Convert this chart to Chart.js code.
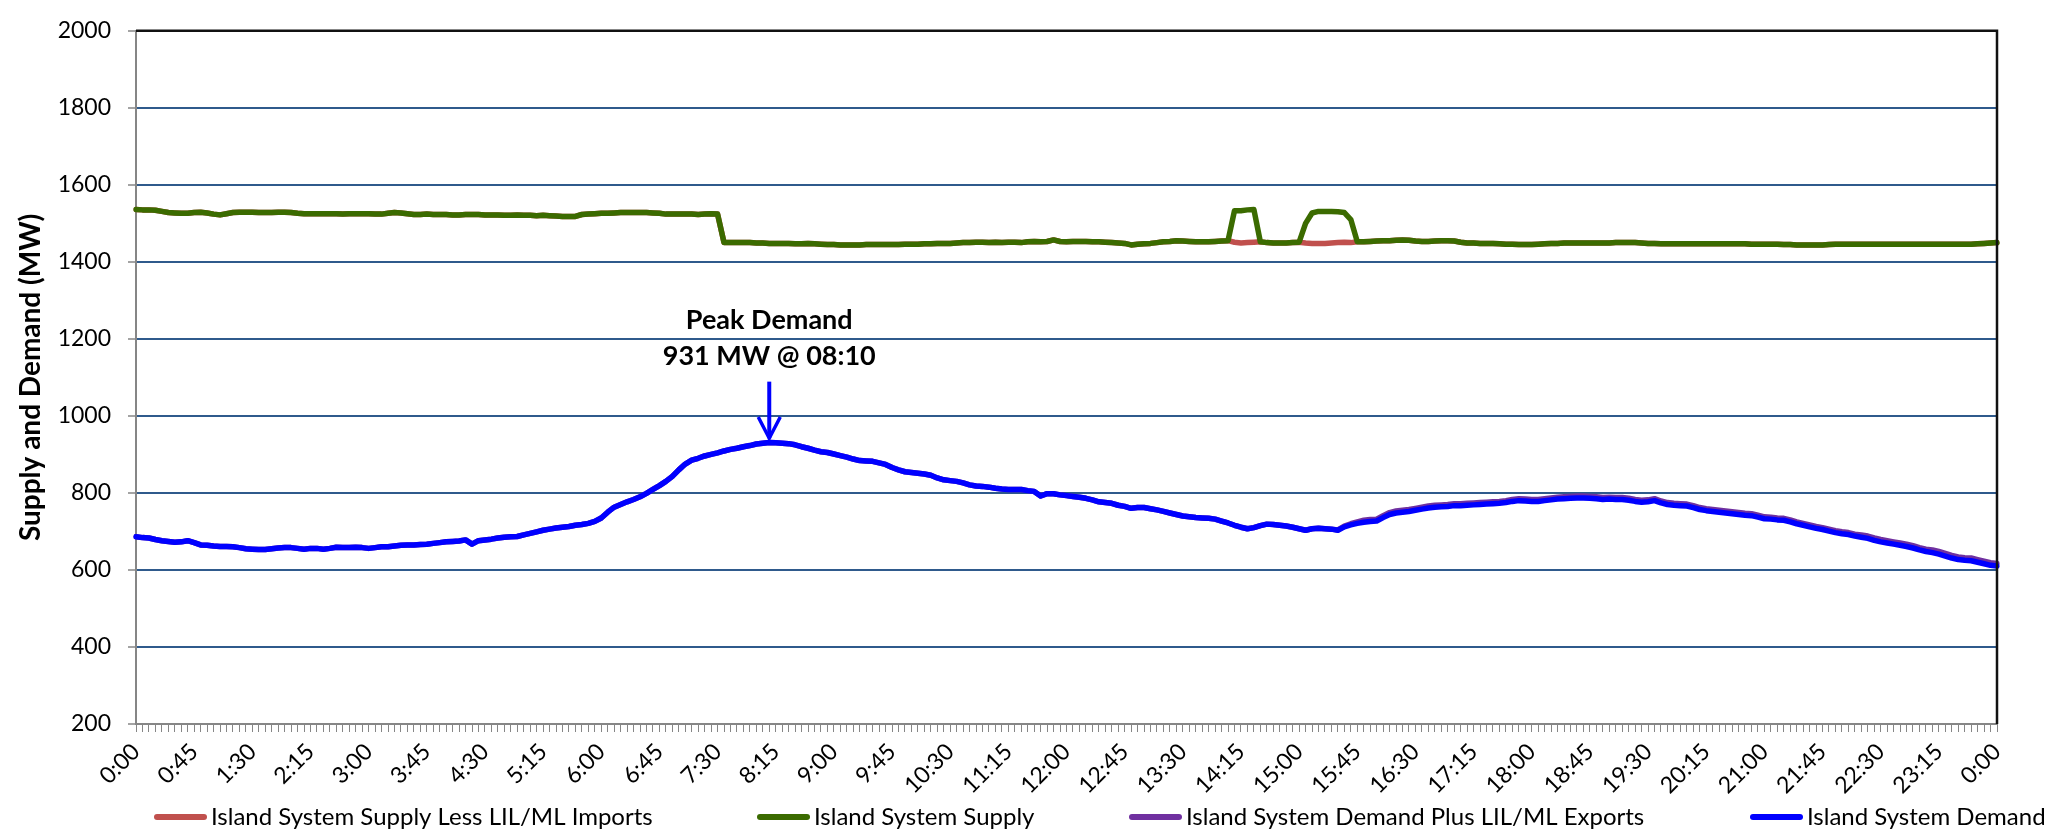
<!DOCTYPE html>
<html>
<head>
<meta charset="utf-8">
<script src="https://cdn.jsdelivr.net/npm/chart.js@4.4.0/dist/chart.umd.min.js"></script>
<style>
html,body{margin:0;padding:0;background:#fff;}
#wrap{width:2055px;height:831px;position:relative;}
</style>
</head>
<body>
<div id="wrap"><canvas id="c" width="2055" height="831"></canvas></div>
<script>
// ---------- DATA (5-minute readings, 0:00 .. 24:00) ----------
const seriesNames = [
  'Island System Supply Less LIL/ML Imports',
  'Island System Supply',
  'Island System Demand Plus LIL/ML Exports',
  'Island System Demand'
];

const islandDemand = [
  686,684,683,679,676,674,672,673,676,671,665,664,
  662,661,661,660,658,655,654,653,653,655,657,658,
  658,656,654,656,656,654,656,659,658,658,659,658,
  656,658,660,660,662,664,665,665,666,667,669,671,
  673,674,675,678,667,676,678,680,683,685,686,687,
  691,695,699,703,706,709,711,713,716,718,721,726,
  735,750,763,770,777,783,790,799,809,819,830,843,
  860,875,885,890,896,900,904,909,913,916,920,923,
  927,929,931,930,929,928,925,920,916,911,907,905,
  901,897,893,888,884,883,882,878,874,866,860,855,
  853,851,849,846,839,834,832,830,826,821,818,817,
  815,812,810,809,809,809,806,804,792,798,798,795,
  793,791,789,786,782,777,775,773,768,765,760,762,
  762,759,756,752,748,744,740,738,736,735,734,732,
  727,722,716,711,707,710,715,719,718,716,714,711,
  707,703,707,708,707,706,703,712,717,721,724,726,
  727,736,744,748,750,752,755,758,761,763,764,765,
  767,767,768,769,770,771,772,773,775,778,780,779,
  778,778,780,782,784,785,786,787,787,786,785,783,
  784,783,783,781,778,776,777,780,774,770,768,767,
  766,762,757,754,752,750,748,746,744,742,741,737,
  733,732,730,729,725,720,716,712,708,705,701,697,
  694,692,688,685,682,677,673,670,667,664,661,657,
  652,648,645,641,636,631,627,625,624,620,616,612,
  610
];

const lilExports = [
  0,0,0,0,0,0,0,0,0,0,0,0,
  0,0,0,0,0,0,0,0,0,0,0,0,
  0,0,0,0,0,0,0,0,0,0,0,0,
  0,0,0,0,0,0,0,0,0,0,0,0,
  0,0,0,0,0,0,0,0,0,0,0,0,
  0,0,0,0,0,0,0,0,0,0,0,0,
  0,0,0,0,0,0,0,0,0,0,0,0,
  0,0,0,0,0,0,0,0,0,0,0,0,
  0,0,0,0,0,0,0,0,0,0,0,0,
  0,0,0,0,0,0,0,0,0,0,0,0,
  0,0,0,0,0,0,0,0,0,0,0,0,
  0,0,0,0,0,0,0,0,0,0,0,0,
  0,0,0,0,0,0,0,0,0,0,0,0,
  0,0,0,0,0,0,0,0,0,0,0,0,
  0,0,0,0,0,0,0,0,0,0,0,0,
  0,0,0,0,0,0,1,2,3,4,5,5,
  5,5,5,5,5,5,5,5,5,5,5,5,
  5,5,5,5,5,5,5,5,5,5,5,5,
  5,5,5,5,5,5,5,5,5,5,5,5,
  5,5,5,5,5,5,5,5,5,5,5,5,
  5,5,5,5,5,5,5,5,5,5,5,5,
  5,5,5,5,5,5,5,5,5,5,5,5,
  5,5,5,6,6,6,6,6,6,6,6,6,
  6,6,7,7,7,7,7,7,7,7,7,7,
  7
];

const islandSupply = [
  1536,1535,1535,1534,1531,1528,1527,1526,1526,1528,1529,1527,
  1524,1522,1525,1528,1529,1529,1529,1528,1528,1528,1529,1529,
  1528,1526,1525,1525,1525,1525,1525,1525,1524,1525,1525,1525,
  1525,1524,1524,1526,1528,1527,1525,1523,1523,1524,1523,1523,
  1523,1522,1522,1523,1523,1523,1522,1522,1522,1521,1521,1522,
  1521,1521,1520,1521,1520,1519,1518,1518,1518,1523,1524,1525,
  1526,1526,1527,1528,1528,1528,1528,1528,1527,1526,1524,1524,
  1524,1524,1524,1523,1524,1525,1524,1450,1450,1450,1450,1450,
  1449,1449,1448,1448,1448,1448,1447,1447,1448,1447,1446,1445,
  1445,1444,1444,1444,1444,1445,1445,1445,1445,1445,1445,1446,
  1446,1446,1447,1447,1448,1448,1448,1449,1450,1450,1451,1451,
  1450,1451,1450,1451,1451,1450,1452,1453,1452,1453,1457,1453,
  1452,1453,1453,1453,1452,1452,1451,1450,1449,1448,1444,1446,
  1447,1448,1450,1452,1453,1455,1454,1453,1452,1452,1452,1453,
  1454,1455,1533,1533,1535,1536,1452,1450,1449,1449,1449,1450,
  1451,1500,1527,1531,1531,1531,1530,1528,1510,1452,1452,1453,
  1454,1455,1455,1456,1457,1456,1454,1453,1453,1454,1455,1455,
  1454,1451,1449,1449,1448,1448,1448,1447,1446,1446,1445,1445,
  1445,1446,1447,1448,1448,1449,1449,1449,1449,1449,1449,1449,
  1449,1450,1450,1450,1450,1449,1448,1448,1447,1447,1447,1447,
  1447,1447,1447,1447,1447,1447,1447,1447,1447,1447,1446,1446,
  1446,1446,1446,1445,1445,1444,1444,1444,1444,1444,1445,1446,
  1446,1446,1446,1446,1446,1446,1446,1446,1446,1446,1446,1446,
  1446,1446,1446,1446,1446,1446,1446,1446,1446,1447,1448,1449,
  1450
];

const lilImports = [
  0,0,0,0,0,0,0,0,0,0,0,0,
  0,0,0,0,0,0,0,0,0,0,0,0,
  0,0,0,0,0,0,0,0,0,0,0,0,
  0,0,0,0,0,0,0,0,0,0,0,0,
  0,0,0,0,0,0,0,0,0,0,0,0,
  0,0,0,0,0,0,0,0,0,0,0,0,
  0,0,0,0,0,0,0,0,0,0,0,0,
  0,0,0,0,0,0,0,0,0,0,0,0,
  0,0,0,0,0,0,0,0,0,0,0,0,
  0,0,0,0,0,0,0,0,0,0,0,0,
  0,0,0,0,0,0,0,0,0,0,0,0,
  0,0,0,0,0,0,0,0,0,0,0,0,
  0,0,0,0,0,0,0,0,0,0,0,0,
  0,0,0,0,0,0,0,0,0,0,0,0,
  0,0,82,84,85,85,0,0,0,0,0,0,
  0,51,79,83,83,82,80,77,60,0,0,0,
  0,0,0,0,0,0,0,0,0,0,0,0,
  0,0,0,0,0,0,0,0,0,0,0,0,
  0,0,0,0,0,0,0,0,0,0,0,0,
  0,0,0,0,0,0,0,0,0,0,0,0,
  0,0,0,0,0,0,0,0,0,0,0,0,
  0,0,0,0,0,0,0,0,0,0,0,0,
  0,0,0,0,0,0,0,0,0,0,0,0,
  0,0,0,0,0,0,0,0,0,0,0,0,
  0
];

// category labels: every 5 minutes from 0:00 to 24:00 (shown as 0:00)
const timeLabels = [];
for (let m = 0; m <= 1440; m += 5) {
  timeLabels.push((Math.floor(m / 60) % 24) + ':' + String(m % 60).padStart(2, '0'));
}
const labelEvery = 9;            // a tick label every 45 minutes
const yTickValues = {min: 200, max: 2000, step: 200};

const peakInfo = {index: 98, title: 'Peak Demand', text: '931 MW @ 08:10'};

// ---------- derived tables ----------
const supplyLessImports = islandSupply.map((v, i) => v - lilImports[i]);
const demandPlusExports = islandDemand.map((v, i) => v + lilExports[i]);

// ---------- styling ----------
const FONT = "Lato, 'Liberation Sans', sans-serif";
const colors = ['#c0504d', '#3b6b00', '#7030a0', '#0000ff'];
const legendX = [154, 757, 1129, 1750];
const annot = {titleVal: 1248, textVal: 1155, arrowTopVal: 1089, arrowTipVal: 942, headVal: 997};

const decor = {
  id: 'decor',
  afterDatasetsDraw(chart) {
    const {ctx, chartArea: a, scales: {x, y}} = chart;
    ctx.save();
    ctx.strokeStyle = '#111';
    ctx.lineWidth = 2.5;
    ctx.beginPath();
    ctx.moveTo(a.left, a.top);
    ctx.lineTo(a.right, a.top);
    ctx.lineTo(a.right, a.bottom);
    ctx.stroke();

    const px = x.getPixelForValue(peakInfo.index);
    ctx.fillStyle = '#000';
    ctx.font = 'bold 27px ' + FONT;
    ctx.textAlign = 'center';
    ctx.textBaseline = 'middle';
    ctx.fillText(peakInfo.title, px, y.getPixelForValue(annot.titleVal));
    ctx.fillText(peakInfo.text, px, y.getPixelForValue(annot.textVal));
    const yTop = y.getPixelForValue(annot.arrowTopVal);
    const yTip = y.getPixelForValue(annot.arrowTipVal);
    const yHead = y.getPixelForValue(annot.headVal);
    ctx.strokeStyle = '#0000ff';
    ctx.lineWidth = 4;
    ctx.lineCap = 'butt';
    ctx.beginPath();
    ctx.moveTo(px, yTop);
    ctx.lineTo(px, yTip);
    ctx.stroke();
    ctx.lineWidth = 3.5;
    ctx.beginPath();
    ctx.moveTo(px - 11, yHead);
    ctx.lineTo(px, yTip);
    ctx.lineTo(px + 11, yHead);
    ctx.stroke();
    ctx.restore();
  },
  afterDraw(chart) {
    const {ctx} = chart;
    ctx.save();
    const yc = 817;
    chart.data.datasets.forEach((ds, i) => {
      const x0 = legendX[i];
      ctx.strokeStyle = ds.borderColor;
      ctx.lineWidth = 6;
      ctx.lineCap = 'round';
      ctx.beginPath();
      ctx.moveTo(x0 + 3, yc);
      ctx.lineTo(x0 + 50, yc);
      ctx.stroke();
      ctx.fillStyle = '#000';
      ctx.font = '24px ' + FONT;
      ctx.textAlign = 'left';
      ctx.textBaseline = 'middle';
      ctx.fillText(ds.label, x0 + 57, yc);
    });
    ctx.restore();
  }
};

const gridBlue = '#2f5a8c';
const axisGray = '#868686';

new Chart(document.getElementById('c'), {
  type: 'line',
  data: {
    labels: timeLabels,
    datasets: [
      {label: seriesNames[0], data: supplyLessImports, borderColor: colors[0], backgroundColor: colors[0], order: 3},
      {label: seriesNames[1], data: islandSupply, borderColor: colors[1], backgroundColor: colors[1], order: 2},
      {label: seriesNames[2], data: demandPlusExports, borderColor: colors[2], backgroundColor: colors[2], order: 1},
      {label: seriesNames[3], data: islandDemand, borderColor: colors[3], backgroundColor: colors[3], order: 0}
    ]
  },
  options: {
    responsive: false,
    devicePixelRatio: 1,
    animation: false,
    events: [],
    layout: {padding: {top: 27, right: 58, bottom: 0, left: 0}},
    elements: {
      line: {borderWidth: 5.5, tension: 0, borderJoinStyle: 'round', borderCapStyle: 'round'},
      point: {radius: 0}
    },
    plugins: {
      legend: {display: false},
      tooltip: {enabled: false},
      title: {display: false}
    },
    scales: {
      x: {
        type: 'category',
        offset: false,
        afterFit: (s) => { s.height = 107; },
        grid: {
          display: true, drawOnChartArea: false, drawTicks: true,
          tickLength: 8, tickColor: axisGray, tickWidth: 1
        },
        border: {display: true, color: axisGray, width: 2},
        ticks: {
          autoSkip: false, maxRotation: 45, minRotation: 45,
          padding: 6, color: '#000',
          font: {family: FONT, size: 23},
          callback: function (value, index) {
            return index % labelEvery === 0 ? this.getLabelForValue(value) : '';
          }
        }
      },
      y: {
        min: yTickValues.min, max: yTickValues.max,
        afterFit: (s) => { s.width = 136; },
        ticks: {
          stepSize: yTickValues.step, padding: 17, color: '#000',
          font: {family: FONT, size: 23},
          callback: (v) => String(v)
        },
        grid: {
          color: (c) => c.tick && c.tick.value === yTickValues.max ? '#111' : (c.tick && c.tick.value === yTickValues.min ? axisGray : gridBlue),
          lineWidth: 2, tickLength: 8, tickColor: axisGray, tickWidth: 1.5
        },
        border: {display: true, color: axisGray, width: 2},
        title: {
          display: true, text: 'Supply and Demand (MW)', color: '#000',
          font: {family: FONT, size: 28, weight: 'bold'},
          padding: {top: 14, bottom: 0}
        }
      }
    }
  },
  plugins: [decor]
});
</script>
</body>
</html>
